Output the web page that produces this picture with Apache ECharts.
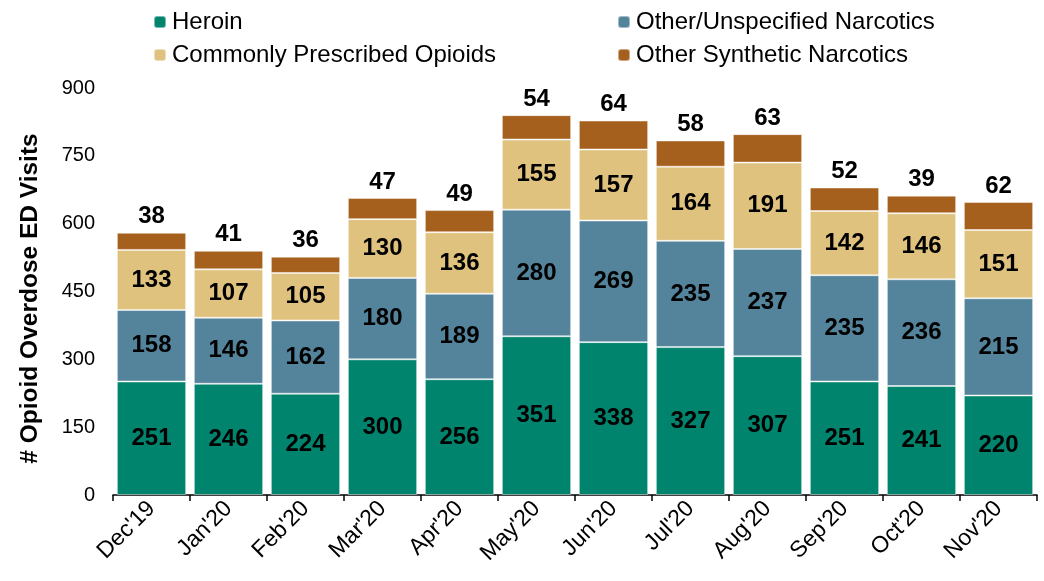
<!DOCTYPE html>
<html><head><meta charset="utf-8">
<script src="https://cdn.jsdelivr.net/npm/echarts@6/dist/echarts.min.js"></script>
<style>html,body{margin:0;padding:0;background:#fff}#c{width:1044px;height:581px}</style>
</head><body><div id="c"></div>
<script>
const categories = ["Dec'19","Jan'20","Feb'20","Mar'20","Apr'20","May'20","Jun'20","Jul'20","Aug'20","Sep'20","Oct'20","Nov'20"];
const heroin = [251,246,224,300,256,351,338,327,307,251,241,220];
const otherUnspecified = [158,146,162,180,189,280,269,235,237,235,236,215];
const prescribed = [133,107,105,130,136,155,157,164,191,142,146,151];
const synthetic = [38,41,36,47,49,54,64,58,63,52,39,62];
const yTicks = [0,150,300,450,600,750,900];

const chart = echarts.init(document.getElementById('c'));
const F = 'Liberation Sans, Arial, sans-serif';
const lbl = {show:true, position:'inside', color:'#000', fontWeight:'bold', fontSize:24, fontFamily:F};
const border = {borderColor:'rgba(255,255,255,0.45)', borderWidth:1};
function ser(name, data, color, label){
  return {name, type:'bar', stack:'t', data, barCategoryGap:'10%',
    itemStyle:Object.assign({color}, border), label, emphasis:{disabled:true}};
}
chart.setOption({
  animation:false,
  textStyle:{fontFamily:F},
  legend:[
    {left:148, top:5, orient:'vertical', itemWidth:12, itemHeight:12, itemGap:9,
     data:['Heroin','Commonly Prescribed Opioids'],
     textStyle:{fontSize:24, color:'#000', fontFamily:F, padding:[0,0,0,1]}},
    {left:612, top:5, orient:'vertical', itemWidth:12, itemHeight:12, itemGap:9,
     data:['Other/Unspecified Narcotics','Other Synthetic Narcotics'],
     textStyle:{fontSize:24, color:'#000', fontFamily:F, padding:[0,0,0,1]}}
  ],
  grid:{left:113, right:7, top:88, bottom:86, outerBoundsMode:'none', containLabel:false},
  xAxis:{type:'category', data:categories,
    axisLine:{lineStyle:{color:'#000', width:1.5}},
    axisTick:{show:true, length:6, lineStyle:{color:'#000', width:1.5}},
    axisLabel:{rotate:45, fontSize:23, color:'#000', fontFamily:F, margin:10}},
  yAxis:{type:'value', min:0, max:900, interval:150,
    name:'# Opioid Overdose ED Visits', nameLocation:'middle', nameGap:70,
    nameTextStyle:{fontSize:24.5, fontWeight:'bold', color:'#000', fontFamily:F, padding:[0,14,0,0]},
    axisLine:{show:false}, axisTick:{show:false}, splitLine:{show:false},
    axisLabel:{fontSize:20, color:'#000', fontFamily:F, margin:18,
      formatter:v=>yTicks.includes(v)?String(v):''}},
  series:[
    ser('Heroin', heroin, '#00846E', lbl),
    ser('Other/Unspecified Narcotics', otherUnspecified, '#54849C', lbl),
    ser('Commonly Prescribed Opioids', prescribed, '#E0C27F', lbl),
    ser('Other Synthetic Narcotics', synthetic, '#A6601E', Object.assign({}, lbl, {position:'top', distance:4}))
  ]
});
</script></body></html>
